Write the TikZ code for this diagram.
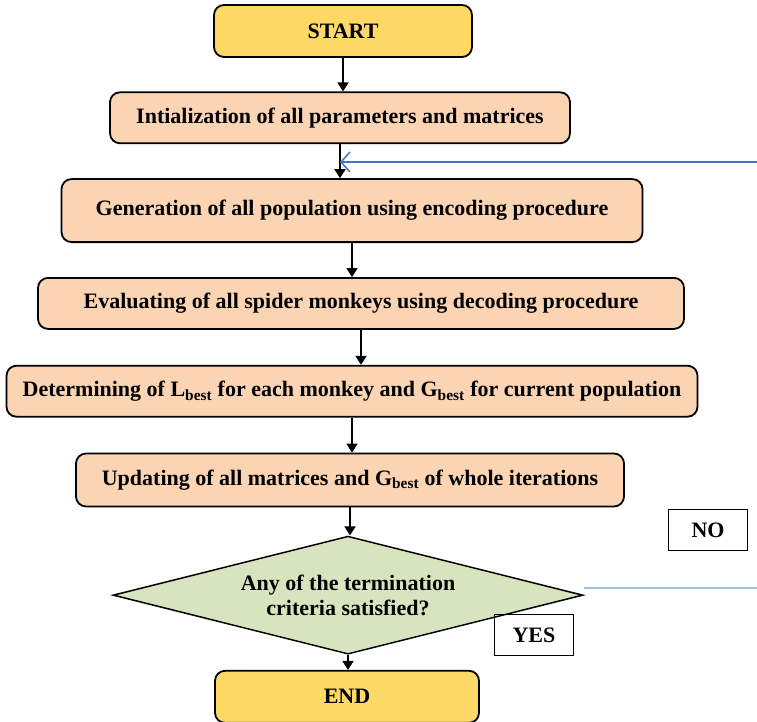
\documentclass[tikz,border=0pt]{standalone}
\usepackage{fontspec}
\setmainfont{Liberation Serif}
\usetikzlibrary{positioning,shapes.geometric,arrows.meta}
\definecolor{termyellow}{RGB}{255,217,102}
\definecolor{procpeach}{RGB}{251,212,180}
\definecolor{decgreen}{RGB}{215,228,189}
\definecolor{loopblue}{RGB}{68,114,196}
\definecolor{lineblue}{RGB}{157,195,230}
\begin{document}
\begin{tikzpicture}[x=1pt, y=-1pt,
  every node/.style={font=\fontsize{22}{25}\selectfont\bfseries},
  term node/.style={draw, rounded corners=10pt, line width=1.8pt, fill=termyellow, minimum height=52pt},
  proc node/.style={draw, rounded corners=10pt, line width=1.8pt, fill=procpeach, minimum height=51pt},
  dec node/.style={diamond, draw, line width=1.5pt, fill=decgreen, align=center, minimum width=470pt, minimum height=118pt, inner sep=0pt, aspect=4},
  tag node/.style={draw, line width=1.2pt, minimum width=79pt, minimum height=41pt},
  flow/.style={-{Triangle[length=9pt,width=11pt]}, line width=1.8pt}]
        \clip (0,0) rectangle (757,722);

          \node[term node, minimum width=258pt] (start) at (343,31) {START};
          \node[proc node, minimum width=460pt] (init) [below=33.5pt of start, xshift=-3pt] {Intialization of all parameters and matrices};
          \node[proc node, minimum width=581pt, minimum height=63pt] (gen) [below=34pt of init, xshift=12pt] {Generation of all population using encoding procedure};
          \node[proc node, minimum width=646pt] (eval) [below=34pt of gen, xshift=9pt] {Evaluating of all spider monkeys using decoding procedure};
          \node[proc node, minimum width=691pt] (det) [below=35pt of eval, xshift=-9pt] {Determining of L\textsubscript{best} for each monkey and G\textsubscript{best}  for current population};
          \node[proc node, minimum width=548pt, minimum height=53pt] (upd) [below=35pt of det, xshift=-2pt] {Updating of all matrices and G\textsubscript{best} of whole iterations};
          \node[dec node] (dec) [below=28pt of upd, xshift=-2pt] {Any of the termination\\criteria satisfied?};
          \node[term node, minimum width=264pt] (end) [below=15pt of dec, xshift=-1pt] {END};

          \node[tag node] (no) at (708,530) {NO};
          \node[tag node] (yes) at (534,635) {YES};

          \coordinate (loopin) at (757,162);
          \coordinate (loopout) at (757,588);

          \foreach \a/\b in {start/init, init/gen, gen/eval, eval/det, det/upd, upd/dec, dec/end}
            \draw[flow] (\a.south) -- (\a.south |- \b.north);

          \draw[loopblue, line width=1.5pt, -{Straight Barb[length=9pt,width=20pt]}] (loopin) -- (loopin -| init.south);
          \draw[lineblue, line width=1.2pt] (dec.east |- loopout) -- (loopout);

        \end{tikzpicture}
\end{document}
